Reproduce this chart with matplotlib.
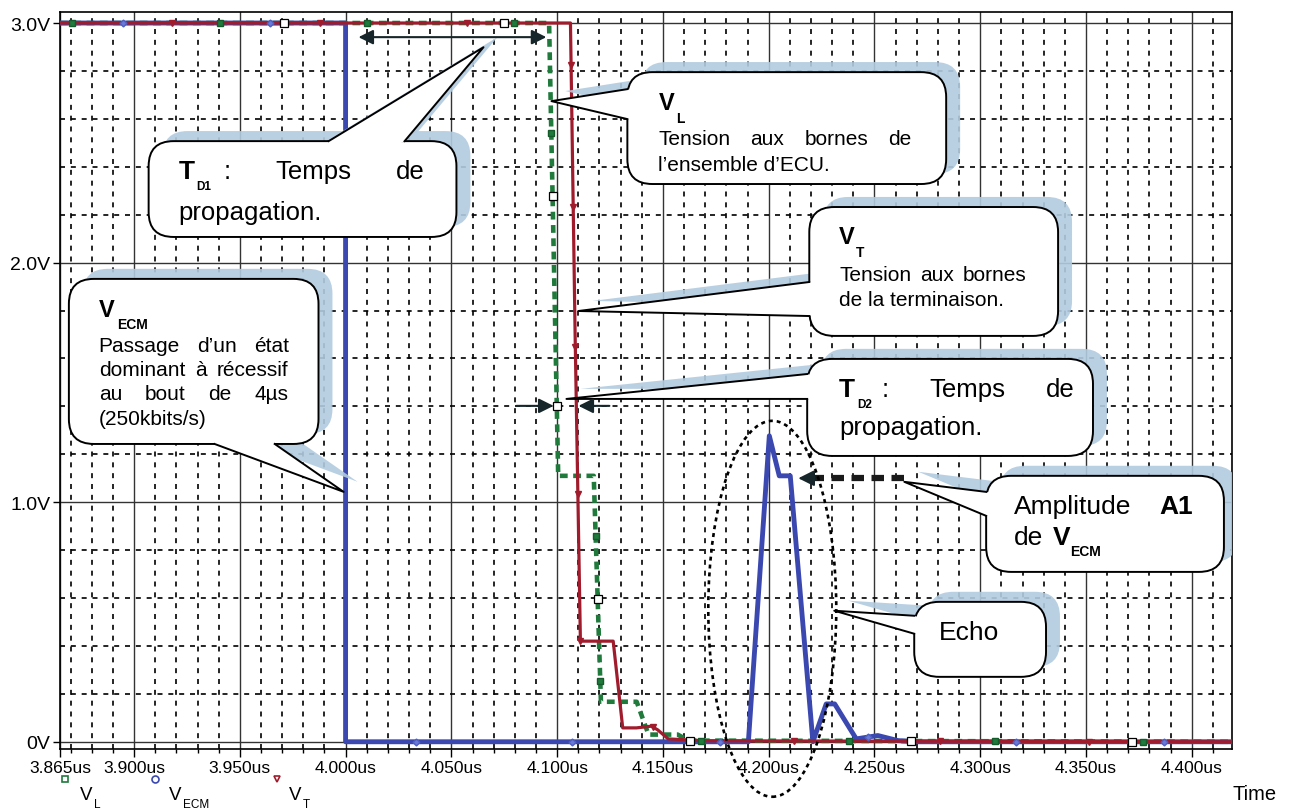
import numpy as np
import matplotlib.pyplot as plt
from matplotlib.patches import FancyBboxPatch, Polygon, Ellipse
from matplotlib.ticker import FixedLocator, MultipleLocator

plt.rcParams['font.family'] = ['Liberation Sans', 'DejaVu Sans']

# --- traces (time in us, volts) ---
ecm_t = [3.865, 4.000, 4.000, 4.1904, 4.2003, 4.2050, 4.2102, 4.2209,
         4.2272, 4.2312, 4.2414, 4.2516, 4.2611, 4.2700, 4.419]
ecm_v = [3.0, 3.0, 0.0, 0.0, 1.277, 1.11, 1.11, 0.0,
         0.158, 0.158, 0.012, 0.026, 0.005, 0.0, 0.0]

vt_t = [3.865, 4.1063, 4.1085, 4.1110, 4.1265, 4.1310, 4.1375, 4.1445,
        4.1475, 4.1525, 4.170, 4.419]
vt_v = [3.0, 3.0, 1.70, 0.42, 0.42, 0.058, 0.058, 0.065,
        0.05, 0.012, 0.004, 0.0]

vl_t = [3.865, 4.0962, 4.1005, 4.1173, 4.1207, 4.1376, 4.1432, 4.157,
        4.162, 4.419]
vl_v = [3.0, 3.0, 1.11, 1.11, 0.167, 0.167, 0.03, 0.03, 0.005, 0.0]

# trace markers (times where the simulator put its symbols)
vl_mk_t = [3.8706, 3.9405, 4.0099, 4.0798, 4.09724, 4.1182, 4.12039,
           4.1682, 4.2381, 4.3070, 4.3770]
vl_sq_t = [3.9707, 4.0751, 4.09784, 4.09984, 4.11915, 4.1630, 4.2674, 4.3718]
ecm_mk_t = [3.8947, 3.9641, 4.0335, 4.1072, 4.1771, 4.2470, 4.3170, 4.3869]
vt_mk_t = [3.9178, 3.9877, 4.0572, 4.1066, 4.1076, 4.1086, 4.1098, 4.1110,
           4.1455, 4.2121, 4.2811, 4.3514]

x_ticks = [3.865, 3.900, 3.950, 4.000, 4.050, 4.100, 4.150, 4.200,
           4.250, 4.300, 4.350, 4.400]
x_labels = [f"{t:.3f}us" for t in x_ticks]
y_ticks = [0, 1, 2, 3]
y_labels = ["0V", "1.0V", "2.0V", "3.0V"]

BLUE = '#3a48b0'
RED = '#a01c2c'
GREEN = '#1f7a3c'
SHADOW = '#b2cbe0'

fig = plt.figure(figsize=(12.93, 8.12), dpi=100)
ax = fig.add_axes([0.0464, 0.0764, 0.9064, 0.9076])
ax.set_xlim(3.865, 4.419)
ax.set_ylim(-0.03, 3.046)

ax.xaxis.set_major_locator(FixedLocator(x_ticks))
ax.set_xticklabels(x_labels)
ax.xaxis.set_minor_locator(MultipleLocator(0.01))
ax.yaxis.set_major_locator(FixedLocator(y_ticks))
ax.set_yticklabels(y_labels)
ax.yaxis.set_minor_locator(MultipleLocator(0.2))
ax.set_axisbelow(True)
ax.grid(which='major', color='#333333', lw=1.0, ls='-')
ax.grid(which='minor', color='k', lw=1.2, ls=(0, (3, 3.5)))
ax.tick_params(axis='x', which='major', direction='out', length=6, width=1,
               labelsize=12.5, pad=2)
ax.tick_params(axis='x', which='minor', direction='out', length=3, width=1)
ax.tick_params(axis='y', which='major', direction='out', length=5, width=1,
               labelsize=14, pad=2)
ax.tick_params(axis='y', which='minor', length=0)
for s in ax.spines.values():
    s.set_linewidth(1.2)

# --- traces ---
ax.plot(vl_t, vl_v, color=GREEN, lw=3.3, ls=(0, (1.7, 1.2)), zorder=3)
ax.plot(ecm_t, ecm_v, color=BLUE, lw=3.5, zorder=3.1)
ax.plot(vt_t, vt_v, color=RED, lw=2.3, zorder=3.2)

ax.plot(vl_mk_t, np.interp(vl_mk_t, vl_t, vl_v), 's', ms=5, mfc=GREEN,
        mec='#145a2a', zorder=4)
ax.plot(vl_sq_t, np.interp(vl_sq_t, vl_t, vl_v), 's', ms=5.5, mfc='white',
        mec='k', mew=0.9, zorder=4)
ax.plot(ecm_mk_t, np.interp(ecm_mk_t, ecm_t, ecm_v), 'D', ms=3.5,
        mfc='#6a78d8', mec='#5060c0', zorder=4)
ax.plot(vt_mk_t, np.interp(vt_mk_t, vt_t, vt_v), 'v', ms=4.5, mfc=RED,
        mec=RED, zorder=4)


# --- callouts ---
def bubble(x0, x1, y0, y1, base_a, base_b, tip):
    cx, cy = (x0 + x1) / 2, (y0 + y1) / 2
    ina = (base_a[0] + 0.08 * (cx - base_a[0]), base_a[1] + 0.08 * (cy - base_a[1]))
    inb = (base_b[0] + 0.08 * (cx - base_b[0]), base_b[1] + 0.08 * (cy - base_b[1]))
    pts = np.array([base_a, tip, base_b, inb, ina])
    for dx, dy, fc, ec, z in [(0.0066, 0.042, SHADOW, 'none', 5),
                              (0, 0, 'white', 'k', 6)]:
        ax.add_patch(FancyBboxPatch((x0 + dx, y0 + dy), x1 - x0, y1 - y0,
                                    boxstyle='round,pad=0,rounding_size=0.0118',
                                    mutation_aspect=8.8, fc=fc, ec=ec, lw=1.4,
                                    alpha=0.9 if z == 5 else 1, zorder=z))
        ax.add_patch(Polygon(pts + [dx, dy], closed=True, fc=fc, ec='none',
                             alpha=0.9 if z == 5 else 1, zorder=z + 0.1))
    ax.plot([base_a[0], tip[0], base_b[0]], [base_a[1], tip[1], base_b[1]],
            color='k', lw=1.4, zorder=6.2)


def justify(words, x0, x1, y, **kw):
    r = fig.canvas.get_renderer()
    texts = [ax.text(x0, y, w, ha='left', va='center', zorder=7, **kw) for w in words]
    widths = [t.get_window_extent(r).width for t in texts]
    p0 = ax.transData.transform((x0, y))[0]
    p1 = ax.transData.transform((x1, y))[0]
    gap = (p1 - p0 - sum(widths)) / max(len(words) - 1, 1)
    pos = p0
    inv = ax.transData.inverted()
    for t, w in zip(texts, widths):
        t.set_x(inv.transform((pos, 0))[0])
        pos += w + gap


def label(x, y, main, sub, size, subsize, off, weight='bold'):
    ax.text(x, y, main, fontsize=size, fontweight=weight, ha='left',
            va='center', zorder=7, clip_on=False)
    ax.annotate(sub, xy=(x, y), xytext=off, textcoords='offset points',
                fontsize=subsize, fontweight=weight, ha='left', va='center',
                zorder=7, annotation_clip=False)


# T_D1
bubble(3.9069, 4.0524, 2.107, 2.507, (3.9920, 2.507), (4.0279, 2.507), (4.0652, 2.899))
label(3.9211, 2.382, "T", "D1", 19, 8.5, (13, -10.8))
justify([":", "Temps", "de"], 3.9424, 4.0373, 2.382, fontsize=18.5)
ax.text(3.9211, 2.211, "propagation.", fontsize=18.5, ha='left', va='center', zorder=7)

# V_L
bubble(4.1332, 4.2839, 2.328, 2.795, (4.1332, 2.724), (4.1332, 2.599), (4.0973, 2.674))
label(4.1479, 2.670, "V", "L", 17, 10, (13, -11.5))
justify(["Tension", "aux", "bornes", "de"], 4.1479, 4.2674, 2.516, fontsize=15)
ax.text(4.1479, 2.411, "l’ensemble d’ECU.", fontsize=15, ha='left', va='center', zorder=7)

# V_T
bubble(4.2192, 4.3368, 1.694, 2.232, (4.2192, 1.919), (4.2192, 1.777), (4.1101, 1.798))
label(4.2333, 2.107, "V", "T", 17, 10, (12.2, -10.8))
justify(["Tension", "aux", "bornes"], 4.2333, 4.3217, 1.952, fontsize=15)
ax.text(4.2333, 1.848, "de la terminaison.", fontsize=15, ha='left', va='center', zorder=7)

# V_ECM
bubble(3.8692, 3.9872, 1.243, 1.932, (3.9381, 1.243), (3.9665, 1.243), (3.9991, 1.043))
label(3.8833, 1.806, "V", "ECM", 17, 10, (13, -10.8))
justify(["Passage", "d’un", "état"], 3.8833, 3.9731, 1.652, fontsize=15)
justify(["dominant", "à", "récessif"], 3.8833, 3.9731, 1.552, fontsize=15)
justify(["au", "bout", "de", "4µs"], 3.8833, 3.9731, 1.452, fontsize=15)
ax.text(3.8833, 1.348, "(250kbits/s)", fontsize=15, ha='left', va='center', zorder=7)

# T_D2
bubble(4.2182, 4.3533, 1.193, 1.598, (4.2182, 1.535), (4.2182, 1.431), (4.1044, 1.431))
label(4.2333, 1.473, "T", "D2", 19, 8.5, (13, -10.8))
justify([":", "Temps", "de"], 4.2532, 4.3444, 1.473, fontsize=18.5)
ax.text(4.2333, 1.314, "propagation.", fontsize=18.5, ha='left', va='center', zorder=7)

# Amplitude A1
bubble(4.3028, 4.4152, 0.709, 1.110, (4.3028, 1.043), (4.3028, 0.943), (4.2641, 1.085))
ax.text(4.3160, 0.985, "Amplitude", fontsize=19, ha='left', va='center', zorder=7)
ax.text(4.4006, 0.985, "A1", fontsize=19, fontweight='bold', ha='right', va='center', zorder=7)
ax.text(4.3160, 0.855, "de", fontsize=19, ha='left', va='center', zorder=7)
label(4.3344, 0.855, "V", "ECM", 19, 10, (12.2, -10))

# Echo
bubble(4.2688, 4.3311, 0.271, 0.584, (4.2688, 0.526), (4.2688, 0.451), (4.2310, 0.547))
ax.text(4.2948, 0.459, "Echo", fontsize=19, ha='center', va='center', zorder=7)

# --- arrows and ellipse ---
HEAD = '#16262a'
ax.annotate('', xy=(4.0949, 2.941), xytext=(4.0061, 2.941),
            arrowprops=dict(arrowstyle='<|-|>', color=HEAD, lw=1.5,
                            mutation_scale=22, shrinkA=0, shrinkB=0), zorder=8)
ax.annotate('', xy=(4.0983, 1.402), xytext=(4.0808, 1.402),
            arrowprops=dict(arrowstyle='-|>', color=HEAD, lw=1.5,
                            mutation_scale=22, shrinkA=0, shrinkB=0), zorder=8)
ax.annotate('', xy=(4.1101, 1.402), xytext=(4.1247, 1.402),
            arrowprops=dict(arrowstyle='-|>', color=HEAD, lw=1.5,
                            mutation_scale=22, shrinkA=0, shrinkB=0), zorder=8)
ax.plot([4.2641, 4.2205], [1.10, 1.10], color='#1a1a1a', lw=4.5,
        ls=(0, (2, 1.2)), solid_capstyle='butt', zorder=8)
ax.annotate('', xy=(4.2140, 1.10), xytext=(4.2215, 1.10),
            arrowprops=dict(arrowstyle='-|>', color=HEAD, lw=1.5,
                            mutation_scale=24, shrinkA=0, shrinkB=0), zorder=8)

ax.add_patch(Ellipse((4.2017, 0.555), 0.0605, 1.569, fill=False, ec='k',
                     lw=1.9, ls=(0, (1.5, 1.5)), clip_on=False, zorder=8))

# --- bottom legend ---
legend_items = [("L", 's', GREEN, 3.8673, 3.8744),
                ("ECM", 'o', BLUE, 3.9098, 3.9164),
                ("T", 'v', RED, 3.9674, 3.9731)]
for sub, mk, col, xm, xl in legend_items:
    ax.plot([xm], [-0.154], mk, ms=5, mfc='none', mec=col, mew=1.2, clip_on=False)
    label(xl, -0.221, "V", sub, 13.5, 8.5, (10.5, -6.5), weight='normal')

fig.text(0.970, 0.021, "Time", fontsize=14.5, ha='center', va='center')

fig.savefig("out.png", dpi=100)
